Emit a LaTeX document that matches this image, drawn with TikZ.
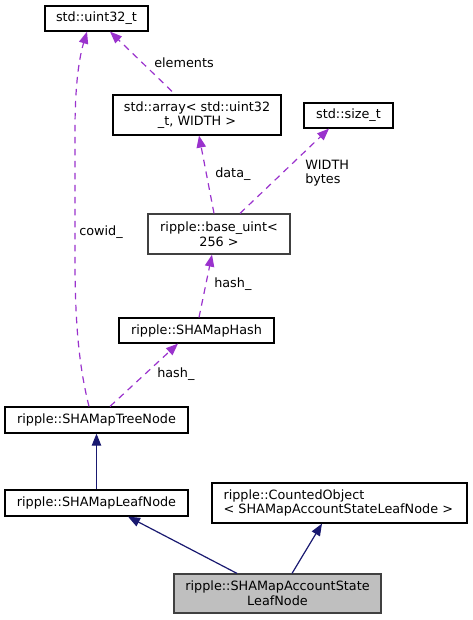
\documentclass[tikz,border=0pt]{standalone}
\usepackage{fontspec}
\setmainfont{DejaVu Sans}
\usepackage{xcolor}
\usepackage{tikz}
\usetikzlibrary{arrows.meta}
\definecolor{usecol}{HTML}{9A32CD}
\definecolor{inhcol}{HTML}{191970}
\definecolor{mainfill}{HTML}{BFBFBF}
\definecolor{darkline}{HTML}{404040}
\newdimen\pxu
\pxu=0.75pt

\begin{document}
\begin{tikzpicture}[
        x=\pxu, y=-\pxu,
        cls/.style={
            rectangle,
            draw=black,
            line width=0.9pt,
            fill=white,
            text=black,
            align=center,
            font=\fontsize{9.6pt}{11pt}\selectfont,
            inner sep=1pt
        },
        usage/.style={
            draw=usecol,
            line width=0.9pt,
            dash pattern=on 5pt off 4pt,
            -{Triangle[length=9pt,width=7pt]},
            usecol
        },
        inherit/.style={
            draw=inhcol,
            line width=0.9pt,
            -{Triangle[length=9pt,width=7pt]},
            inhcol
        },
        lbl/.style={
            text=black,
            font=\fontsize{9.6pt}{11pt}\selectfont,
            inner sep=0pt
        }
    ]
        \useasboundingbox (0,0) rectangle (472,620);

        % members, top part
        \node[cls, minimum width=103\pxu, minimum height=25\pxu] (uint32) at (96.5,18.5) {std::uint32\_t};
        \node[cls, minimum width=168\pxu, minimum height=40\pxu] (array) at (197,115) {std::array< std::uint32\\\_t, WIDTH >};
        \node[cls, minimum width=89\pxu, minimum height=25\pxu] (sizet) at (348.5,115.5) {std::size\_t};
        \node[cls, draw=darkline, minimum width=142\pxu, minimum height=40\pxu] (baseuint) at (219,234) {ripple::base\_uint<\\256 >};
        \node[cls, minimum width=155\pxu, minimum height=25\pxu] (hash) at (196.5,330.5) {ripple::SHAMapHash};

        % class hierarchy
        \node[cls, minimum width=183\pxu, minimum height=26\pxu] (tree) at (96.5,420) {ripple::SHAMapTreeNode};
        \node[cls, minimum width=183\pxu, minimum height=26\pxu] (leaf) at (96.5,503) {ripple::SHAMapLeafNode};
        \node[cls, align=left, text width=232\pxu, minimum width=255\pxu, minimum height=40\pxu] (counted) at (339.5,503) {ripple::CountedObject\\< SHAMapAccountStateLeafNode >};
        \node[cls, fill=mainfill, draw=darkline, minimum width=207\pxu, minimum height=39\pxu] (account) at (277.5,593.5) {ripple::SHAMapAccountState\\LeafNode};

        % usage edges
        \draw[usage] ([xshift=-7.5\pxu]tree.north) .. controls (80,370) and (75,330) .. (75,260)
            -- (75,130) .. controls (75,80) and (80,55) .. ([xshift=-9.5\pxu]uint32.south);
        \draw[usage] ([xshift=-25\pxu,yshift=3\pxu]array.north) -- ([xshift=13.5\pxu]uint32.south);
        \draw[usage] ([xshift=-5\pxu]baseuint.north) -- ([xshift=2\pxu]array.south);
        \draw[usage] ([xshift=21\pxu]baseuint.north) -- ([xshift=-19.5\pxu]sizet.south);
        \draw[usage] ([xshift=2.5\pxu]hash.north) -- ([xshift=-7\pxu]baseuint.south);
        \draw[usage] ([xshift=13.5\pxu]tree.north) -- ([xshift=-18.5\pxu]hash.south);

        % inheritance edges
        \draw[inherit] (leaf.north) -- (tree.south);
        \draw[inherit] ([xshift=-40.5\pxu]account.north) -- ([xshift=31.5\pxu]leaf.south);
        \draw[inherit] ([xshift=14.5\pxu]account.north) -- ([xshift=-17.5\pxu]counted.south);

        % edge labels
        \node[lbl] (lelements) at (184,63) {elements};
        \node[lbl, anchor=west] (ldata) at (215,174) {data\_};
        \node[lbl, anchor=west, align=left] (lwidth) at (305,173) {WIDTH\\bytes};
        \node[lbl, anchor=west] (lcowid) at (79,232) {cowid\_};
        \node[lbl, anchor=west] (lhashtop) at (214,284) {hash\_};
        \node[lbl, anchor=west] (lhashlow) at (157,374) {hash\_};
    \end{tikzpicture}
\end{document}
